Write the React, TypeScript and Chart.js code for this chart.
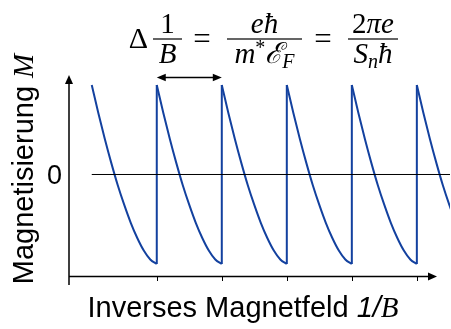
import React, { useEffect, useRef } from "react";
import { Chart, registerables } from "chart.js";

Chart.register(...registerables);

// 1/B positions where the magnetisation jumps back up (one period Δ(1/B) apart)
const jumpPositions = [2, 3, 4, 5, 6];
// first tooth starts one period before the first jump
const firstToothStart = 1;
// phase inside one period, as a fraction of Δ(1/B)
const toothPhase = [0, 0.1, 0.2, 0.3, 0.4, 0.5, 0.6, 0.7, 0.8, 0.9, 1.0];
// magnetisation over one tooth (normalised amplitude)
const toothM = [1.0, 0.69, 0.4, 0.13, -0.12, -0.34, -0.54, -0.71, -0.85, -0.95, -1.0];
// horizontal reference line M = 0
const zeroLevel = 0;
const zeroLineExtent = [1, 6.7];
// axis ranges and the level where the 1/B axis is drawn
const xRange = [0.65, 6.51];
const yRange = [-1.235, 1.112];
const xAxisLevel = -1.13;
const xAxisEnd = 6.31;
const yTickLabels = ["0"];
const xTitleText = "Inverses Magnetfeld ";
const xTitleVar = ["1/", "B"];
const yTitleText = "Magnetisierung ";
const yTitleVar = "M";

const BLUE = "#13419f";
const SANS = "'Liberation Sans', Arial, sans-serif";
const SERIF = "'Liberation Serif', 'DejaVu Serif', serif";
const MATH = "'Liberation Serif', 'DejaVu Serif', serif";

type Run = { t: string; font: string; dy?: number };

function runsWidth(ctx: CanvasRenderingContext2D, runs: Run[]) {
  let w = 0;
  for (const r of runs) {
    ctx.font = r.font;
    w += ctx.measureText(r.t).width;
  }
  return w;
}

function drawRuns(ctx: CanvasRenderingContext2D, runs: Run[], x: number, y: number) {
  ctx.textAlign = "left";
  ctx.textBaseline = "alphabetic";
  for (const r of runs) {
    ctx.font = r.font;
    ctx.fillText(r.t, x, y + (r.dy || 0));
    x += ctx.measureText(r.t).width;
  }
}

function drawRunsCentered(ctx: CanvasRenderingContext2D, runs: Run[], cx: number, y: number) {
  const w = runsWidth(ctx, runs);
  drawRuns(ctx, runs, cx - w / 2, y);
}

function arrowHead(
  ctx: CanvasRenderingContext2D,
  x: number,
  y: number,
  dx: number,
  dy: number,
  len = 9,
  half = 4
) {
  const px = -dy;
  const py = dx;
  ctx.beginPath();
  ctx.moveTo(x, y);
  ctx.lineTo(x - dx * len + px * half, y - dy * len + py * half);
  ctx.lineTo(x - dx * len - px * half, y - dy * len - py * half);
  ctx.closePath();
  ctx.fill();
}

function drawFraction(
  ctx: CanvasRenderingContext2D,
  num: Run[],
  den: Run[],
  cx: number,
  barY: number,
  barW: number
) {
  ctx.fillRect(cx - barW / 2, barY - 0.6, barW, 1.2);
  drawRunsCentered(ctx, num, cx, barY - 6);
  drawRunsCentered(ctx, den, cx, barY + 24);
}

const decorations = {
  id: "decorations",
  afterDraw(chart: any) {
    const { ctx, chartArea, scales } = chart;
    const xs = scales.x;
    const ys = scales.y;
    ctx.save();
    ctx.fillStyle = "#000";
    ctx.strokeStyle = "#000";

    // axes with arrow heads
    const ax = chartArea.left;
    const ay = Math.round(ys.getPixelForValue(xAxisLevel)) + 0.5;
    const xEnd = xs.getPixelForValue(xAxisEnd);
    ctx.lineWidth = 1.5;
    ctx.beginPath();
    ctx.moveTo(ax, chartArea.bottom);
    ctx.lineTo(ax, chartArea.top + 6);
    ctx.moveTo(ax, ay);
    ctx.lineTo(xEnd - 6, ay);
    ctx.stroke();
    arrowHead(ctx, ax, chartArea.top, 0, -1);
    arrowHead(ctx, xEnd, ay, 1, 0);

    // tick marks at the jumps
    ctx.lineWidth = 1;
    ctx.beginPath();
    for (const j of jumpPositions) {
      const px = Math.round(xs.getPixelForValue(j)) + 0.5;
      ctx.moveTo(px, ay);
      ctx.lineTo(px, ay + 4.5);
    }
    ctx.stroke();

    // y tick label
    ctx.font = `27px ${SANS}`;
    ctx.textAlign = "right";
    ctx.textBaseline = "alphabetic";
    ctx.fillText(yTickLabels[0], 62, ys.getPixelForValue(zeroLevel) + 9.5);

    // axis titles
    drawRunsCentered(
      ctx,
      [
        { t: xTitleText, font: `29px ${SANS}` },
        { t: xTitleVar[0], font: `italic 29px ${SANS}` },
        { t: xTitleVar[1], font: `italic 29px ${SERIF}` },
      ],
      243,
      317
    );
    ctx.save();
    ctx.translate(33, 169);
    ctx.rotate(-Math.PI / 2);
    drawRunsCentered(
      ctx,
      [
        { t: yTitleText, font: `29px ${SANS}` },
        { t: yTitleVar, font: `italic 29px ${SERIF}` },
      ],
      0,
      0
    );
    ctx.restore();

    // period marker between two neighbouring jumps
    const a1 = xs.getPixelForValue(jumpPositions[0]);
    const a2 = xs.getPixelForValue(jumpPositions[1]);
    const arrowY = Math.round(ys.getPixelForValue(toothM[0]) - 8) + 0.5;
    ctx.lineWidth = 1.5;
    ctx.beginPath();
    ctx.moveTo(a1 + 6, arrowY);
    ctx.lineTo(a2 - 6, arrowY);
    ctx.stroke();
    arrowHead(ctx, a1, arrowY, -1, 0, 9, 3.8);
    arrowHead(ctx, a2, arrowY, 1, 0, 9, 3.8);

    // formula for the oscillation period
    const M = 29;
    const S = 20;
    const up = `${M}px ${MATH}`;
    const it = `italic ${M}px ${MATH}`;
    const sub = `italic ${S}px ${MATH}`;
    const barY = 39;
    ctx.font = `30px ${MATH}`;
    ctx.textAlign = "right";
    ctx.fillText("Δ", 148, 48);
    ctx.textAlign = "center";
    ctx.font = `31px ${MATH}`;
    ctx.fillText("=", 202, 49);
    ctx.fillText("=", 323, 49);
    drawFraction(ctx, [{ t: "1", font: up }], [{ t: "B", font: it }], 167.5, barY, 29);
    drawFraction(
      ctx,
      [
        { t: "e", font: it },
        { t: "ħ", font: it },
      ],
      [
        { t: "m", font: it },
        { t: "*", font: `${S}px ${MATH}`, dy: -9 },
        { t: "ℰ", font: it },
        { t: "F", font: sub, dy: 5 },
      ],
      264.5,
      barY,
      75
    );
    drawFraction(
      ctx,
      [
        { t: "2", font: up },
        { t: "π", font: it },
        { t: "e", font: it },
      ],
      [
        { t: "S", font: it },
        { t: "n", font: sub, dy: 5 },
        { t: "ħ", font: it },
      ],
      373,
      barY,
      50
    );
    ctx.restore();
  },
};

export default function App() {
  const canvasRef = useRef<HTMLCanvasElement | null>(null);

  useEffect(() => {
    const canvas = canvasRef.current;
    if (!canvas) return;

    const toothStarts = [firstToothStart, ...jumpPositions];
    const period = jumpPositions[1] - jumpPositions[0];

    const teeth = toothStarts.map((start) => ({
      data: toothPhase.map((p, i) => ({ x: start + p * period, y: toothM[i] })),
      borderColor: BLUE,
      borderWidth: 2,
      pointRadius: 0,
      cubicInterpolationMode: "monotone" as const,
      fill: false,
    }));

    const jumpPoints: { x: number; y: number | null }[] = [];
    for (const j of jumpPositions) {
      jumpPoints.push({ x: j, y: toothM[toothM.length - 1] });
      jumpPoints.push({ x: j, y: toothM[0] });
      jumpPoints.push({ x: j, y: null });
    }

    const chart = new Chart(canvas, {
      type: "line",
      data: {
        datasets: [
          {
            data: zeroLineExtent.map((x) => ({ x, y: zeroLevel })),
            borderColor: "#000",
            borderWidth: 1,
            pointRadius: 0,
            tension: 0,
          },
          ...teeth,
          {
            data: jumpPoints as any,
            borderColor: BLUE,
            borderWidth: 2,
            pointRadius: 0,
            tension: 0,
            spanGaps: false,
          },
        ],
      },
      options: {
        animation: false,
        responsive: false,
        layout: { padding: { left: 69, right: 1, top: 75, bottom: 44 } },
        plugins: { legend: { display: false }, tooltip: { enabled: false } },
        scales: {
          x: { type: "linear", min: xRange[0], max: xRange[1], display: false },
          y: { type: "linear", min: yRange[0], max: yRange[1], display: false },
        },
      },
      plugins: [decorations],
    });

    return () => chart.destroy();
  }, []);

  return (
    <div style={{ position: "fixed", left: 0, top: 0, width: 451, height: 329, background: "#fff" }}>
      <canvas ref={canvasRef} width={451} height={329} style={{ display: "block" }} />
    </div>
  );
}
